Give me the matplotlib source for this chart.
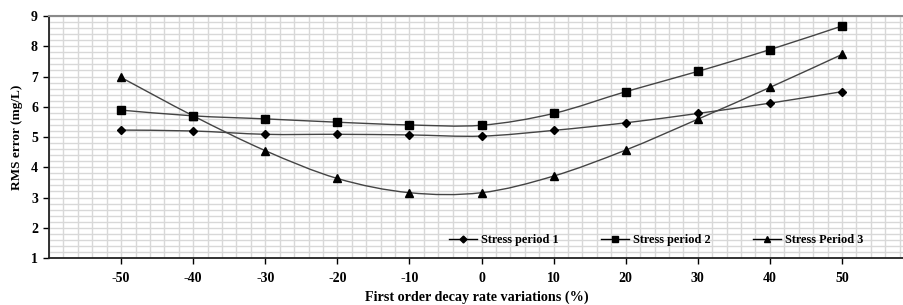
import matplotlib as mpl
mpl.use('Agg')
import matplotlib.pyplot as plt
from matplotlib.path import Path
from matplotlib.patches import PathPatch
from matplotlib.lines import Line2D
from matplotlib.ticker import MultipleLocator
import numpy as np

variation = [-50, -40, -30, -20, -10, 0, 10, 20, 30, 40, 50]
stress_period_1 = [5.23, 5.20, 5.09, 5.09, 5.07, 5.03, 5.22, 5.47, 5.78, 6.12, 6.50]
stress_period_2 = [5.89, 5.70, 5.60, 5.49, 5.40, 5.39, 5.78, 6.50, 7.17, 7.89, 8.67]
stress_period_3 = [6.97, 5.70, 4.55, 3.63, 3.16, 3.16, 3.71, 4.57, 5.59, 6.64, 7.73]
labels = ['Stress period 1', 'Stress period 2', 'Stress Period 3']

plt.rcParams['font.family'] = ['Liberation Serif', 'DejaVu Serif']
plt.rcParams['font.weight'] = 'bold'
plt.rcParams['axes.unicode_minus'] = False

fig = plt.figure(figsize=(9.04, 3.05), dpi=100)
ax = fig.add_axes([0.0542, 0.154, 0.9458, 0.7934])


def smooth_path(xs, ys):
    # excel style smoothed line (catmull-rom -> bezier)
    pts = np.column_stack([xs, ys]).astype(float)
    verts = [pts[0]]
    codes = [Path.MOVETO]
    n = len(pts)
    for i in range(n - 1):
        p0 = pts[i - 1] if i > 0 else pts[i]
        p1 = pts[i]
        p2 = pts[i + 1]
        p3 = pts[i + 2] if i + 2 < n else pts[i + 1]
        c1 = p1 + (p2 - p0) / 6.0
        c2 = p2 - (p3 - p1) / 6.0
        verts += [c1, c2, p2]
        codes += [Path.CURVE4] * 3
    return Path(verts, codes)


series = [(stress_period_1, 'D', 4.0), (stress_period_2, 's', 5.2), (stress_period_3, '^', 5.5)]
handles = []
for (vals, mk, ms), lab in zip(series, labels):
    ax.add_patch(PathPatch(smooth_path(variation, vals), facecolor='none',
                           edgecolor='#444444', lw=1.0, zorder=3))
    ax.plot(variation, vals, linestyle='none', marker=mk, ms=ms, color='black', zorder=4)
    handles.append(Line2D([], [], color='black', lw=1.0, marker=mk, ms=ms - 0.5, label=lab))

ax.set_xlim(-60, 58.6)
ax.set_ylim(1, 9)
ax.set_xticks(variation)
ax.set_yticks(range(1, 10))
ax.xaxis.set_minor_locator(MultipleLocator(2))
ax.yaxis.set_minor_locator(MultipleLocator(0.2))
ax.grid(which='both', color='#d8d8d8', lw=1.0, zorder=0)
ax.set_axisbelow(True)

ax.spines['right'].set_visible(False)
ax.spines['top'].set_color('#8a8a8a')
ax.spines['top'].set_linewidth(1.5)
ax.spines['left'].set_color('#222222')
ax.spines['bottom'].set_color('#222222')
ax.spines['left'].set_linewidth(1.3)
ax.spines['bottom'].set_linewidth(1.3)

ax.tick_params(which='minor', length=0)
ax.tick_params(axis='y', which='major', length=4, width=1, labelsize=10, pad=4)
ax.tick_params(axis='x', which='major', length=4, width=1, labelsize=10, pad=6)
for t in ax.get_xticklabels() + ax.get_yticklabels():
    t.set_fontweight('bold')

ax.set_xlabel('First order decay rate variations (%)', fontsize=10.2, fontweight='bold', labelpad=4)
ax.set_ylabel('RMS error (mg/L)', fontsize=9.5, fontweight='bold', labelpad=6)

ax.legend(handles=handles, loc='lower left', bbox_to_anchor=(0.455, 0.005), ncol=3, frameon=False,
          prop={'size': 8.8, 'weight': 'bold'}, handlelength=2.3, columnspacing=3.5,
          handletextpad=0.3)

plt.savefig('out.png', dpi=100)
plt.close()
